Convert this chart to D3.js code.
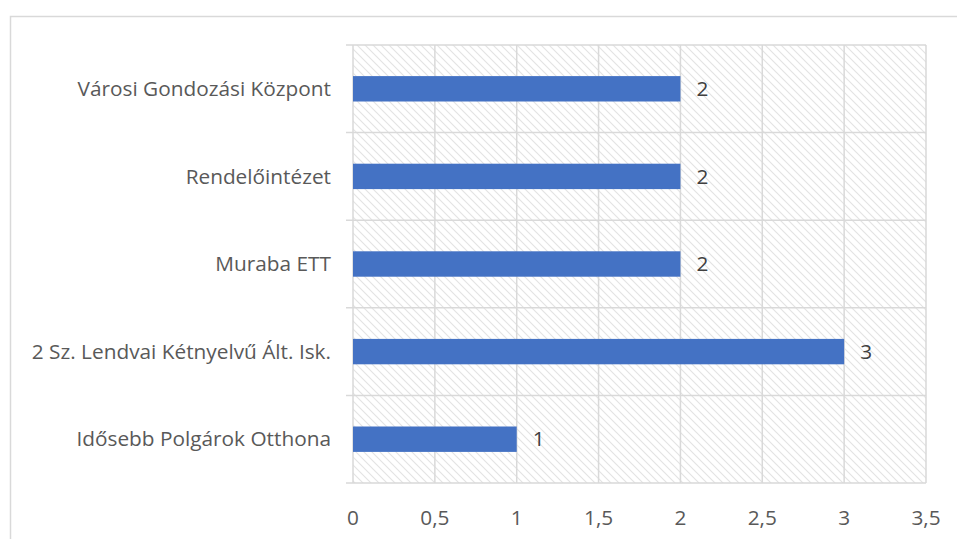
<!DOCTYPE html>
<html><head><meta charset="utf-8">
<script src="https://cdn.jsdelivr.net/npm/d3@7"></script>
<style>body{margin:0;background:#fff;} text{font-family:"Open Sans",sans-serif;}</style>
</head><body>
<svg id="c" width="957" height="539"></svg>
<script>
const categories = ["Városi Gondozási Központ","Rendelőintézet","Muraba ETT","2 Sz. Lendvai Kétnyelvű Ált. Isk.","Idősebb Polgárok Otthona"];
const values = [2,2,2,3,1];
const xTicks = [0,0.5,1,1.5,2,2.5,3,3.5];
const xTickLabels = ["0","0,5","1","1,5","2","2,5","3","3,5"];

const svg = d3.select("#c");
const L=353, R=926, T=45, B=483;
const FS = 20.8;
// chart border
svg.append("path").attr("d","M10.5,560 V16.5 H957").attr("fill","none").attr("stroke","#d9d9d9").attr("stroke-width",1.5);

const defs = svg.append("defs");
const pat = defs.append("pattern").attr("id","hatch").attr("patternUnits","userSpaceOnUse").attr("width",8).attr("height",8);
pat.append("rect").attr("width",8).attr("height",8).attr("fill","#fff");
pat.append("path").attr("d","M-2,-2 L10,10 M-2,6 L2,10 M6,-2 L10,2").attr("stroke","#e3e3e3").attr("stroke-width",1.1);

const x = d3.scaleLinear().domain([0,3.5]).range([L,R]);
const y = d3.scaleBand().domain(categories).range([T,B]).paddingInner(0.71).paddingOuter(0.355);
const yb = d3.scaleBand().domain(categories).range([T,B]);

svg.append("rect").attr("x",L).attr("y",T).attr("width",R-L).attr("height",B-T).attr("fill","url(#hatch)");

// vertical gridlines
svg.append("g").selectAll("line").data(xTicks).join("line")
  .attr("x1",d=>x(d)).attr("x2",d=>x(d)).attr("y1",T).attr("y2",B)
  .attr("stroke","#d9d9d9").attr("stroke-width",1.5);
// horizontal category boundaries
const bounds = categories.map(c=>yb(c)).concat([B]);
svg.append("g").selectAll("line").data(bounds).join("line")
  .attr("x1",L-7).attr("x2",R).attr("y1",d=>d).attr("y2",d=>d)
  .attr("stroke","#d9d9d9").attr("stroke-width",1.5);

// bars
svg.append("g").selectAll("rect").data(categories).join("rect")
  .attr("x",x(0)).attr("y",d=>y(d)).attr("width",(d,i)=>x(values[i])-x(0)).attr("height",y.bandwidth())
  .attr("fill","#4472c4");

// value labels
svg.append("g").selectAll("text").data(categories).join("text")
  .attr("x",(d,i)=>x(values[i])+16).attr("y",d=>y(d)+y.bandwidth()/2).attr("dy","0.35em")
  .attr("font-size",FS).attr("fill","#404040").text((d,i)=>values[i]);

// category labels
svg.append("g").selectAll("text").data(categories).join("text")
  .attr("x",L-22).attr("y",d=>yb(d)+yb.bandwidth()/2).attr("dy","0.35em").attr("text-anchor","end")
  .attr("font-size",FS).attr("fill","#595959").text(d=>d);

// x tick labels
svg.append("g").selectAll("text").data(xTicks).join("text")
  .attr("x",d=>x(d)).attr("y",518).attr("dy","0.35em").attr("text-anchor","middle")
  .attr("font-size",FS).attr("fill","#595959").text((d,i)=>xTickLabels[i]);
</script>
</body></html>
